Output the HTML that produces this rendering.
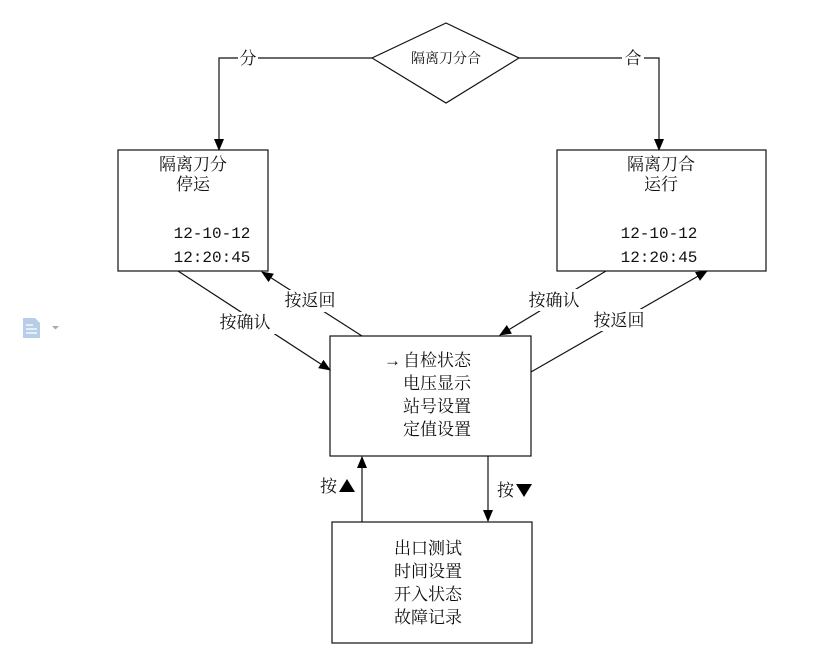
<!DOCTYPE html>
<html><head><meta charset="utf-8"><style>
body{margin:0;background:#fff;width:826px;height:655px;overflow:hidden}
svg text{font-family:"Liberation Serif","Noto Serif CJK SC",serif;font-size:17px;fill:#111}
svg text.m{font-family:"Liberation Mono",monospace;font-size:16px}
</style></head><body>
<svg width="826" height="655" viewBox="0 0 826 655">
<defs><marker id="a" markerWidth="12" markerHeight="10" refX="11" refY="5" orient="auto" markerUnits="userSpaceOnUse"><path d="M0,0 L12,5 L0,10 z" fill="#000"/></marker></defs>
<g stroke="#111" stroke-width="1.2" fill="none">
<polygon points="372,58 446,23 519,58 446,103" fill="#fff"/>
<polyline points="372,58 219,58 219,150" marker-end="url(#a)"/>
<polyline points="519,58 659,58 659,150" marker-end="url(#a)"/>
<rect x="118" y="150" width="150" height="121" fill="#fff"/>
<rect x="557" y="150" width="209" height="121" fill="#fff"/>
<rect x="330" y="336" width="201" height="120" fill="#fff"/>
<rect x="332" y="522" width="200" height="121" fill="#fff"/>
<line x1="178" y1="271" x2="330" y2="370" marker-end="url(#a)"/>
<line x1="362" y1="336" x2="262" y2="272" marker-end="url(#a)"/>
<line x1="606" y1="271" x2="500" y2="335" marker-end="url(#a)"/>
<line x1="531" y1="372" x2="707" y2="271" marker-end="url(#a)"/>
<line x1="362" y1="522" x2="362" y2="457" marker-end="url(#a)"/>
<line x1="488" y1="456" x2="488" y2="521" marker-end="url(#a)"/>
</g>
<g>
<rect x="238" y="48" width="20" height="20" fill="#fff"/>
<rect x="622" y="48" width="22" height="20" fill="#fff"/>
<rect x="212" y="312" width="66" height="22" fill="#fff"/>
<rect x="280" y="290" width="60" height="22" fill="#fff"/>
<rect x="522" y="289" width="64" height="22" fill="#fff"/>
<rect x="588" y="309" width="62" height="22" fill="#fff"/>
</g>
<text x="446" y="63" text-anchor="middle" style="font-size:14px">隔离刀分合</text>
<text x="248" y="64" text-anchor="middle">分</text>
<text x="633" y="64" text-anchor="middle">合</text>
<text x="193" y="170" text-anchor="middle">隔离刀分</text>
<text x="193" y="190" text-anchor="middle">停运</text>
<text class="m" x="212" y="238" text-anchor="middle">12-10-12</text>
<text class="m" x="212" y="262" text-anchor="middle">12:20:45</text>
<text x="661" y="170" text-anchor="middle">隔离刀合</text>
<text x="661" y="190" text-anchor="middle">运行</text>
<text class="m" x="659" y="238" text-anchor="middle">12-10-12</text>
<text class="m" x="659" y="262" text-anchor="middle">12:20:45</text>
<text x="245" y="328" text-anchor="middle">按确认</text>
<text x="310" y="306" text-anchor="middle">按返回</text>
<text x="554" y="306" text-anchor="middle">按确认</text>
<text x="619" y="326" text-anchor="middle">按返回</text>
<text x="384" y="366">→</text>
<text x="403" y="366">自检状态</text>
<text x="403" y="389">电压显示</text>
<text x="403" y="412">站号设置</text>
<text x="403" y="435">定值设置</text>
<text x="394" y="554">出口测试</text>
<text x="394" y="577">时间设置</text>
<text x="394" y="600">开入状态</text>
<text x="394" y="623">故障记录</text>
<text x="320" y="492">按</text>
<path d="M339,492 l8,-13 l8,13z" fill="#000"/>
<text x="497" y="496">按</text>
<path d="M516,484 h16 l-8,13z" fill="#000"/>
<g fill="#b8cde8"><path d="M23,318 h12 l5,5 v15 h-17 z"/></g>
<g stroke="#fff" stroke-width="1.3"><line x1="26" y1="325" x2="33" y2="325"/><line x1="26" y1="329" x2="37" y2="329"/><line x1="26" y1="333" x2="37" y2="333"/></g>
<path d="M52,326 h7 l-3.5,3.5z" fill="#aaa"/>
</svg>
</body></html>
